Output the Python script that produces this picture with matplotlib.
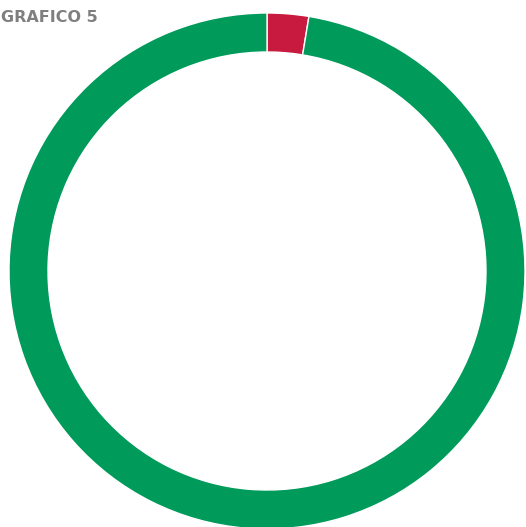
import matplotlib.pyplot as plt

# dati
labels = ['Rosso', 'Verde']
values = [2.6, 97.4]
colors = ['#C8193F', '#009A5B']
title = 'GRAFICO 5'

W, H = 526, 527
fig = plt.figure(figsize=(W / 100, H / 100), dpi=100)

# anello centrato a (267, 271) px, raggio ~258 px
cx, cy, r = 267, 271, 258
ax = fig.add_axes([(cx - r) / W, (H - cy - r) / H, 2 * r / W, 2 * r / H])
ax.pie(values, colors=colors, startangle=90, counterclock=False,
       radius=1, wedgeprops=dict(width=39 / r, edgecolor='white', linewidth=1))
ax.set_xlim(-1, 1)
ax.set_ylim(-1, 1)
ax.set_aspect('equal')
ax.axis('off')

# titolo in alto a sinistra
fig.text(1 / W, 1 - 17 / H, title, ha='left', va='center',
         fontsize=11.5, fontweight='heavy', color='#7F7F7F',
         family='DejaVu Sans')

fig.savefig('out.png', dpi=100)
